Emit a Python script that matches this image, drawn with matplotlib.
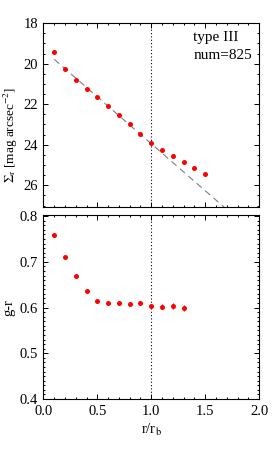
import matplotlib
matplotlib.use("Agg")
import matplotlib.pyplot as plt
import numpy as np
from matplotlib.ticker import MultipleLocator

# ---- data ----
r_top = [0.1, 0.2, 0.3, 0.4, 0.5, 0.6, 0.7, 0.8, 0.9, 1.0, 1.1, 1.2, 1.3, 1.4, 1.5]
sigma_r = [19.42, 20.27, 20.80, 21.23, 21.65, 22.10, 22.54, 23.00, 23.48, 23.90,
           24.26, 24.57, 24.85, 25.16, 25.44]
fit_intercept = 19.32
fit_slope = 4.63
fit_xrange = [0.1, 2.0]

r_bot = [0.1, 0.2, 0.3, 0.4, 0.5, 0.6, 0.7, 0.8, 0.9, 1.0, 1.1, 1.2, 1.3]
g_r = [0.758, 0.710, 0.669, 0.636, 0.614, 0.609, 0.611, 0.608, 0.609, 0.603,
       0.602, 0.604, 0.599]
g_r_err = [0.002, 0.002, 0.002, 0.002, 0.002, 0.003, 0.003, 0.003, 0.004, 0.004,
           0.005, 0.0065, 0.007]

label_type = "type III"
label_num = "num=825"
r_break = 1.0

plt.rcParams['font.family'] = ['Liberation Serif', 'DejaVu Serif']
plt.rcParams['mathtext.fontset'] = 'stix'

FS = 10.5
fig = plt.figure(figsize=(2.73, 4.54), dpi=100)
ax1 = fig.add_axes([0.159, 0.545, 0.790, 0.404])
ax2 = fig.add_axes([0.159, 0.121, 0.790, 0.405])

red = '#ff0000'
for ax in (ax1, ax2):
    ax.tick_params(which='both', direction='in', top=True, right=True,
                   labelsize=FS, width=0.7, colors='black')
    ax.tick_params(which='major', length=3.4, pad=4)
    ax.tick_params(which='minor', length=1.7)
    for s in ax.spines.values():
        s.set_linewidth(0.8)
    ax.set_xlim(0, 2.0)
    ax.xaxis.set_major_locator(MultipleLocator(0.5))
    ax.xaxis.set_minor_locator(MultipleLocator(0.1))
    ax.axvline(r_break, color='black', linestyle=(0, (1, 2)), linewidth=0.8)

# top panel
fx = np.array(fit_xrange)
ax1.plot(fx, fit_intercept + fit_slope * fx, color='gray', linestyle=(0, (6, 4)),
         linewidth=0.8)
ax1.plot(r_top, sigma_r, 'o', color=red, markersize=3.6, markeredgewidth=0)
ax1.set_ylim(27.05, 18)
ax1.yaxis.set_major_locator(MultipleLocator(2))
ax1.yaxis.set_minor_locator(MultipleLocator(0.5))
ax1.set_xticklabels([])
ax1.set_ylabel(r'$\Sigma_{\rm r}$ [mag arcsec$^{-2}$]', fontsize=9.5)
ax1.yaxis.set_label_coords(-0.108, 0.39)
ax1.text(0.695, 0.9035, label_type, transform=ax1.transAxes,
         ha='left', va='baseline', fontsize=11)
ax1.text(0.695, 0.807, label_num, transform=ax1.transAxes,
         ha='left', va='baseline', fontsize=11)

# bottom panel
ax2.errorbar(r_bot, g_r, yerr=g_r_err, fmt='o', color=red, markersize=3.6,
             markeredgewidth=0, elinewidth=0.8, capsize=0)
ax2.set_ylim(0.4, 0.802)
ax2.yaxis.set_major_locator(MultipleLocator(0.1))
ax2.yaxis.set_minor_locator(MultipleLocator(0.01))
ax2.set_xticks([0.0, 0.5, 1.0, 1.5, 2.0])
ax2.set_xticklabels(['0.0', '0.5', '1.0', '1.5', '2.0'])
ax2.set_ylabel('g-r', fontsize=FS)
ax2.yaxis.set_label_coords(-0.13, 0.5)
ax2.set_xlabel(r'r/r$_{\rm b}$', fontsize=FS, labelpad=3)

fig.savefig('out.png', dpi=100)
